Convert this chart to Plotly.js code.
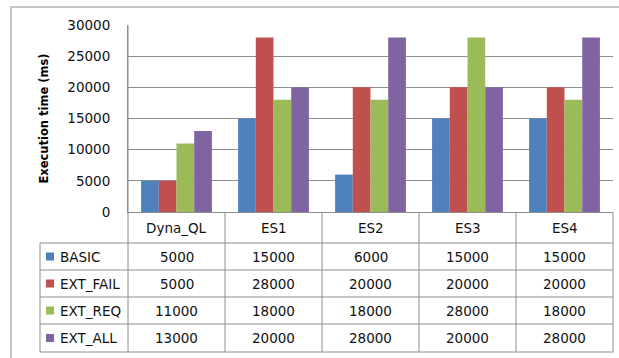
<!DOCTYPE html>
<html>
<head>
<meta charset="utf-8">
<script src="https://cdn.plot.ly/plotly-3.0.1.min.js"></script>
<style>
html, body { margin: 0; padding: 0; background: #ffffff; }
#chart { width: 619px; height: 358px; }
</style>
</head>
<body>
<div id="chart"></div>
<script>
// ---- data ----
const categories = ['Dyna_QL', 'ES1', 'ES2', 'ES3', 'ES4'];
const seriesNames = ['BASIC', 'EXT_FAIL', 'EXT_REQ', 'EXT_ALL'];
const basic   = [5000, 15000, 6000, 15000, 15000];
const extFail = [5000, 28000, 20000, 20000, 20000];
const extReq  = [11000, 18000, 18000, 28000, 18000];
const extAll  = [13000, 20000, 28000, 20000, 28000];
const colors = ['#4F81BD', '#C0504D', '#9BBB59', '#8064A2'];
const yTicks = [0, 5000, 10000, 15000, 20000, 25000, 30000];

const seriesValues = [basic, extFail, extReq, extAll];

// ---- layout geometry (pixels) ----
const W = 619, H = 358;
const L = 128, R = 6, T = 25, B = 146;
const plotW = W - L - R, plotH = H - T - B;
const px = p => (p - L) / plotW;           // pixel x -> paper x
const py = p => (H - B - p) / plotH;       // pixel y -> paper y
const rowLines = [212, 243, 270, 297, 324, 352];
const gray = '#8E8E8E';
const textColor = '#111111';
const font = {family: 'DejaVu Sans', size: 13.5, color: textColor};

const traces = seriesNames.map((name, i) => ({
  type: 'bar',
  name: name,
  x: categories,
  y: seriesValues[i],
  marker: {color: colors[i], line: {width: 0}},
  hoverinfo: 'x+y+name'
}));

const shapes = [];
const annotations = [];
const N = categories.length;

// outer chart border
shapes.push({type: 'rect', xref: 'paper', yref: 'paper',
  x0: px(11), x1: px(630), y0: py(370), y1: py(7),
  line: {color: '#B4B4B4', width: 1.5}, fillcolor: 'rgba(0,0,0,0)'});

// table horizontal lines
rowLines.forEach((p, k) => {
  if (k === 0) return;
  shapes.push({type: 'line', xref: 'paper', yref: 'paper',
    x0: px(40), x1: 1, y0: py(p), y1: py(p), line: {color: gray, width: 1}});
});
// table vertical lines (category boundaries)
for (let k = 0; k <= N; k++) {
  shapes.push({type: 'line', xref: 'paper', yref: 'paper',
    x0: k / N, x1: k / N, y0: py(rowLines[rowLines.length - 1]), y1: k === 0 ? 1 : 0,
    line: {color: gray, width: 1}});
}
// left edge of legend column
shapes.push({type: 'line', xref: 'paper', yref: 'paper',
  x0: px(40), x1: px(40), y0: py(rowLines[1]), y1: py(rowLines[rowLines.length - 1]),
  line: {color: gray, width: 1}});

// header row
const headerY = py((rowLines[0] + rowLines[1]) / 2);
categories.forEach(c => {
  annotations.push({xref: 'x', yref: 'paper', x: c, y: headerY, text: c,
    showarrow: false, font: font, xanchor: 'center', yanchor: 'middle'});
});

// series rows
seriesNames.forEach((name, i) => {
  const yc = py((rowLines[i + 1] + rowLines[i + 2]) / 2);
  // legend key
  shapes.push({type: 'rect', xref: 'paper', yref: 'paper',
    x0: px(46), x1: px(54), y0: yc - 4 / plotH, y1: yc + 4 / plotH,
    line: {width: 0}, fillcolor: colors[i]});
  annotations.push({xref: 'paper', yref: 'paper', x: px(58), y: yc, text: name,
    showarrow: false, font: font, xanchor: 'left', yanchor: 'middle'});
  categories.forEach((c, j) => {
    annotations.push({xref: 'x', yref: 'paper', x: c, y: yc, text: String(seriesValues[i][j]),
      showarrow: false, font: font, xanchor: 'center', yanchor: 'middle'});
  });
});

const layout = {
  width: W, height: H,
  margin: {l: L, r: R, t: T, b: B, pad: 0},
  paper_bgcolor: '#ffffff',
  plot_bgcolor: '#ffffff',
  showlegend: false,
  barmode: 'group',
  bargap: 0.27,
  bargroupgap: 0,
  font: font,
  xaxis: {
    type: 'category',
    range: [-0.5, N - 0.5],
    showticklabels: false,
    ticks: '',
    showgrid: false,
    zeroline: false,
    showline: true,
    linecolor: gray,
    linewidth: 1,
    fixedrange: true
  },
  yaxis: {
    range: [0, 30000],
    tickvals: yTicks,
    ticktext: yTicks.map(String),
    ticks: '',
    ticklabelstandoff: 14,
    tickfont: font,
    showgrid: true,
    gridcolor: gray,
    gridwidth: 1,
    zeroline: false,
    showline: true,
    linecolor: gray,
    linewidth: 1,
    fixedrange: true,
    title: {
      text: 'Execution time (ms)',
      font: {family: 'DejaVu Sans', size: 11.5, weight: 'bold', color: '#000000'},
      standoff: 16
    }
  },
  shapes: shapes,
  annotations: annotations
};

Plotly.newPlot('chart', traces, layout, {displayModeBar: false, staticPlot: true});
</script>
</body>
</html>
